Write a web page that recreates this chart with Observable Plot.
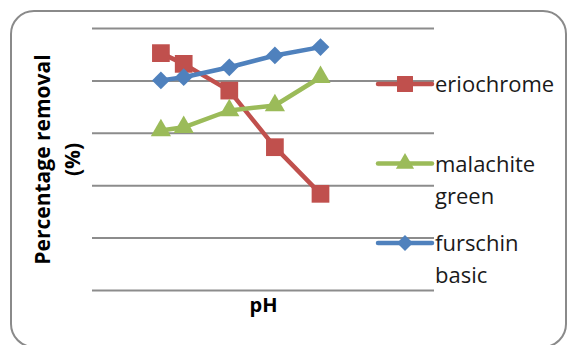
<!DOCTYPE html>
<html><head><meta charset="utf-8">
<script src="https://cdn.jsdelivr.net/npm/d3@7"></script>
<script src="https://cdn.jsdelivr.net/npm/@observablehq/plot@0.6"></script>
<style>
html,body{margin:0;padding:0;background:#fff;}
#wrap{position:relative;width:568px;height:345px;overflow:hidden;font-family:"Open Sans",sans-serif;}
#border{position:absolute;left:10px;top:10px;width:557px;height:338px;border:2px solid #8a8a8a;border-radius:24px;box-sizing:border-box;}
#wrap svg{position:absolute;left:0;top:0;}
</style></head><body>
<div id="wrap"><div id="border"></div></div>
<script>
// ---- data ----
const pH = [2, 3, 5, 7, 9];
const eriochrome = [90.6, 86.5, 76.3, 54.7, 36.9];
const malachiteGreen = [61.1, 62.3, 68.7, 70.6, 81.4];
const furschinBasic = [80.2, 81.4, 85.2, 89.7, 92.9];
const seriesNames = ["eriochrome", "malachite green", "furschin basic"];
const legendLines = [["eriochrome"], ["malachite", "green"], ["furschin", "basic"]];
const seriesColors = ["#C0504D", "#9BBB59", "#4F81BD"];
const seriesSymbols = ["square", "triangle", "diamond2"];
const yTicks = [0, 20, 40, 60, 80, 100];
const xLabel = "pH";
const yLabel = "Percentage removal\n(%)";

const seriesValues = [eriochrome, malachiteGreen, furschinBasic];
const rows = [];
seriesNames.forEach((s, i) => pH.forEach((p, j) => rows.push({series: s, pH: p, value: seriesValues[i][j]})));
const symbolR = {"square": 10, "triangle": 7.5, "diamond2": 8};

const plot = Plot.plot({
  width: 568, height: 345,
  marginLeft: 92, marginRight: 134, marginTop: 28, marginBottom: 55,
  x: {domain: [-1, 14], axis: null},
  y: {domain: [0, 100], axis: null},
  color: {domain: seriesNames, range: seriesColors},
  symbol: {domain: seriesNames, range: seriesSymbols},
  style: {background: "transparent", fontFamily: "Open Sans"},
  marks: [
    Plot.ruleY(yTicks, {stroke: "#8c8c8c", strokeWidth: 2}),
    ...seriesNames.flatMap((s, i) => {
      const d = rows.filter(r => r.series === s);
      return [
        Plot.line(d, {x: "pH", y: "value", stroke: "series", strokeWidth: 4.5}),
        Plot.dot(d, {x: "pH", y: "value", fill: "series", symbol: "series", r: symbolR[seriesSymbols[i]], stroke: "none"})
      ];
    }),
    Plot.text([yLabel], {text: d => d, frameAnchor: "left", textAnchor: "middle", lineAnchor: "middle", dx: -37, rotate: -90, fontSize: 21, fontWeight: "bold", lineHeight: 1.4, fill: "#000"}),
    Plot.text([xLabel], {text: d => d, frameAnchor: "bottom", dy: 21, fontSize: 20, fontWeight: "bold", fill: "#000"})
  ]
});
document.getElementById("wrap").appendChild(plot);

// ---- legend ----
const leg = d3.select("#wrap").append("svg").attr("width", 568).attr("height", 345);
seriesNames.forEach((s, i) => {
  const y = 84 + 79.5 * i;
  const g = leg.append("g");
  g.append("line").attr("x1", 378).attr("x2", 432).attr("y1", y).attr("y2", y)
    .attr("stroke", seriesColors[i]).attr("stroke-width", 4.5).attr("stroke-linecap", "round");
  const typ = {square: d3.symbolSquare, triangle: d3.symbolTriangle, diamond2: d3.symbolDiamond2}[seriesSymbols[i]];
  const r = symbolR[seriesSymbols[i]] * 0.9;
  g.append("path").attr("transform", `translate(405,${y})`)
    .attr("d", d3.symbol(typ, Math.PI * r * r)()).attr("fill", seriesColors[i]);
  const t = g.append("text").attr("x", 435).attr("y", y + 8)
    .attr("font-family", "Open Sans").attr("font-size", 22).attr("fill", "#1a1a1a");
  legendLines[i].forEach((line, k) => t.append("tspan").attr("x", 435).attr("dy", k ? 32 : 0).text(line));
});
</script>
</body></html>
